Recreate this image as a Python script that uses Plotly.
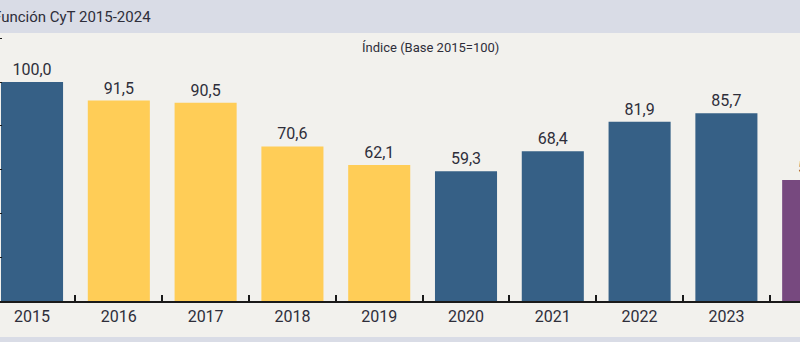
import plotly.graph_objects as go

years = ["2015", "2016", "2017", "2018", "2019", "2020", "2021", "2022", "2023", "2024"]
index_values = [100.0, 91.5, 90.5, 70.6, 62.1, 59.3, 68.4, 81.9, 85.7, 55.2]

BLUE = "#366086"
YELLOW = "#FFCD57"
PURPLE = "#77497F"
bar_colors = [BLUE, YELLOW, YELLOW, YELLOW, YELLOW, BLUE, BLUE, BLUE, BLUE, PURPLE]

TEXT = "#2e2e3a"
BG = "#F2F1ED"
BAND = "#D9DCE6"
FONT = "Roboto"

W, H = 800, 342
top_px, bottom_px = 34, 301
plot_h = bottom_px - top_px
px_per_unit = 2.19

fig = go.Figure(
    go.Bar(
        x=years,
        y=index_values,
        marker=dict(color=bar_colors, line=dict(width=0)),
        texttemplate="%{y:.1f}",
        textposition="outside",
        textfont=dict(family=FONT, size=16, color=TEXT),
        cliponaxis=True,
        width=0.715,
    )
)

def py(pixel_y):
    return (bottom_px - pixel_y) / plot_h

fig.update_layout(
    width=W,
    height=H,
    margin=dict(l=0, r=0, t=top_px, b=H - bottom_px, pad=0),
    paper_bgcolor=BG,
    plot_bgcolor=BG,
    separators=",.",
    showlegend=False,
    font=dict(family=FONT, color=TEXT),
    xaxis=dict(
        type="category",
        range=[-0.369, 8.848],
        showline=True,
        linecolor="#1a1a1a",
        linewidth=2,
        layer="below traces",
        ticks="inside",
        tickson="boundaries",
        ticklen=6,
        tickcolor="#1a1a1a",
        tickwidth=1.5,
        tickfont=dict(family=FONT, size=16, color=TEXT),
        showgrid=False,
        zeroline=False,
    ),
    yaxis=dict(
        range=[0, plot_h / px_per_unit],
        dtick=20,
        tick0=0,
        showticklabels=False,
        ticks="inside",
        ticklen=2,
        tickcolor="#1a1a1a",
        showgrid=False,
        zeroline=False,
        showline=False,
    ),
    shapes=[
        dict(type="rect", xref="paper", yref="paper", x0=0, x1=1,
             y0=py(33), y1=py(0), fillcolor=BAND, line=dict(width=0), layer="below"),
        dict(type="rect", xref="paper", yref="paper", x0=0, x1=1,
             y0=py(342), y1=py(337), fillcolor=BAND, line=dict(width=0), layer="below"),
    ],
    annotations=[
        dict(text="Función CyT 2015-2024", xref="paper", yref="paper",
             x=153 / W, y=py(17), xanchor="right", yanchor="middle",
             showarrow=False, font=dict(family=FONT, size=15, color=TEXT)),
        dict(text="Índice (Base 2015=100)", xref="paper", yref="paper",
             x=430 / W, y=py(47), xanchor="center", yanchor="middle",
             showarrow=False, font=dict(family=FONT, size=13, color=TEXT)),
    ],
)

fig.write_html("out.html")
